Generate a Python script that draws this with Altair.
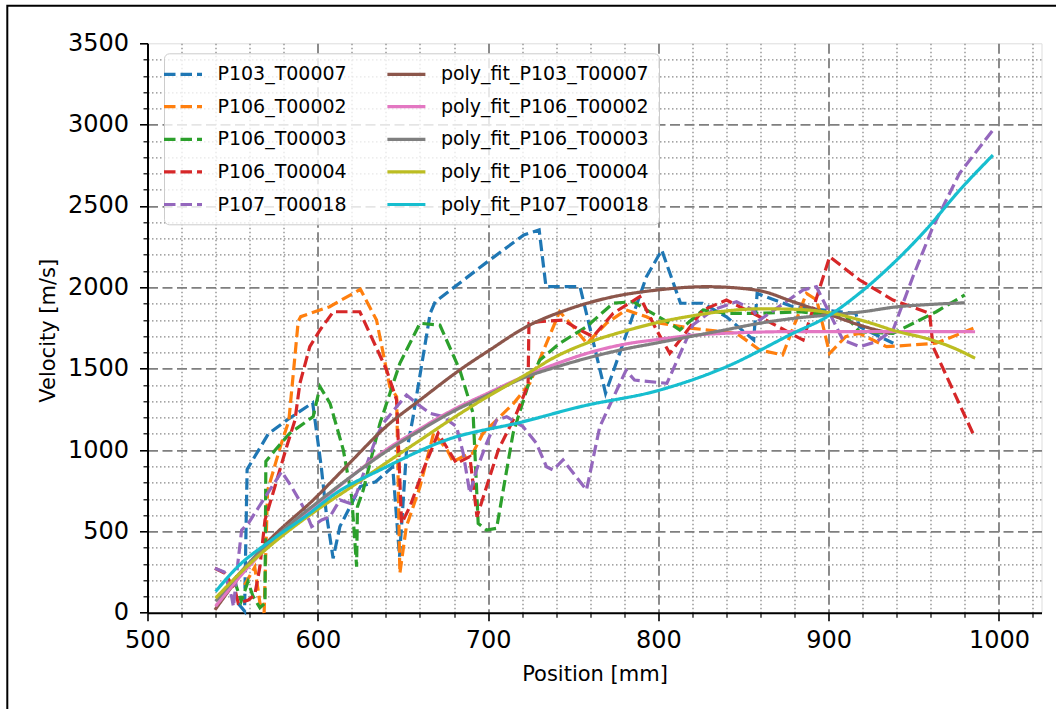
import altair as alt
import pandas as pd

SERIES = ["P103_T00007", "P106_T00002", "P106_T00003", "P106_T00004", "P107_T00018"]
FITS = ["poly_fit_" + s for s in SERIES]
COLORS = ["#1f77b4", "#ff7f0e", "#2ca02c", "#d62728", "#9467bd"]
FIT_COLORS = ["#8c564b", "#e377c2", "#7f7f7f", "#bcbd22", "#17becf"]

# ---- measured series ----
p103_x = [553, 557, 558.5, 563, 571, 582, 597, 602, 605, 609, 613, 625, 634, 644, 648, 652, 656, 666, 669,
          701, 721, 730, 734, 754, 769, 793, 802, 813, 826, 840, 856, 858, 879, 916, 918, 938]
p103_y = [60, 10, 880, 960, 1100, 1185, 1290, 900, 610, 334, 530, 776, 805, 897, 344, 980, 1205, 1840, 1912,
          2168, 2322, 2353, 2004, 2004, 1349, 2065, 2229, 1902, 1902, 1819, 1676, 1963, 1881, 1840, 1758, 1656]

p106_2_x = [557, 563, 566, 568.5, 570.5, 578, 583, 588.5, 590, 607, 625, 634.5, 642.3, 646.3, 648.2, 652, 660,
            668, 676, 679.5, 685, 691, 697, 705, 715, 724.5, 742, 750, 758, 769.5, 781, 793, 801, 820, 846,
            859.5, 873, 887, 893, 900.6, 910, 918, 934, 963, 985]
p106_2_y = [170, 280, 60, 0, 750, 1020, 1180, 1790, 1820, 1881, 1988, 1799, 1389, 1328, 242, 529, 774,
            1103, 1000, 928, 959, 980, 1103, 1184, 1287, 1410, 1850, 1758, 1656, 1779, 1861, 1819, 1779, 1748, 1717,
            1615, 1584, 1963, 1922, 1594, 1697, 1717, 1635, 1656, 1748]

p106_3_x = [551, 555, 559, 562, 566, 569, 569.5, 575, 583.6, 597.3, 601.3, 607.2, 615, 619.9, 622.8, 623.3,
            626.7, 636.5, 648.2, 660, 671.7, 683.4, 691.2, 694.2, 699.1, 705, 714.7, 724.5, 730.4, 742.1,
            757.8, 773.4, 785.2, 793, 806.7, 812.6, 826.3, 840, 859.5, 882.9, 910.4, 918.2, 937.8, 963.2, 979.9]
p106_3_y = [200, 70, 190, 100, 30, 60, 930, 1000, 1103, 1205, 1389, 1287, 1000, 713, 283, 652,
            754, 1164, 1533, 1779, 1768, 1492, 1226, 549, 508, 519, 1103, 1430, 1553, 1656,
            1758, 1902, 1912, 1861, 1779, 1738, 1861, 1840, 1840, 1850, 1819, 1727, 1717, 1850, 1953]

p106_4_x = [539.6, 545.5, 551.4, 553.3, 559.2, 563, 566, 569, 574.8, 581.7, 586.6, 589.5, 595.3, 601.3, 609.1,
            624.7, 640.4, 646.3, 649.2, 654.1, 661.9, 670.7, 681.5, 689.3, 693.5, 706, 716.7, 723.5, 724,
            730.4, 744, 753.9, 761.7, 773.4, 789.1, 798.9, 806.7, 826.3, 840, 859.5, 885, 900.6, 918.2,
            937.8, 959.3, 961.3, 984.7]
p106_4_y = [273, 242, 140, 58, 78, 110, 283, 570, 774, 1020, 1184, 1410, 1635, 1738, 1850,
            1850, 1492, 1307, 549, 652, 877, 1103, 918, 959, 590, 1000, 1226, 1400, 1779,
            1789, 1799, 1738, 1697, 1840, 1943, 1738, 1594, 1861, 1922, 1819, 1676, 2188, 2045,
            1922, 1840, 1635, 1103]

p107_x = [539.6, 545, 549.4, 550.5, 553, 555.3, 559.2, 568, 578.8, 584.6, 592.5, 596.4, 602.3, 607.1, 613,
          618.9, 622.8, 634.5, 638.4, 646.3, 652.1, 658, 665.8, 673.6, 681.5, 685.4, 689.3, 693.2, 699.1, 705,
          710.9, 720.6, 728.4, 734.3, 738.2, 744, 757.8, 765.6, 781, 786, 805, 820.4, 832.1, 845.9, 855.6,
          859.5, 885, 892.8, 908.4, 918.2, 928, 937.8, 949.5, 961.3, 976.9, 996.5]
p107_y = [273, 250, 98, 37, 300, 508, 549, 693, 867, 774, 631, 529, 570, 590, 693,
          672, 734, 1082, 1164, 1266, 1338, 1287, 1226, 1205, 1143, 980, 734, 877, 1041, 1184,
          1205, 1143, 1041, 897, 877, 939, 754, 1143, 1490, 1430, 1410, 1770, 1861, 1912, 1861,
          1799, 1984, 2004, 1676, 1635, 1666, 1738, 2065, 2373, 2701, 2967]

# ---- polynomial fits ----
fit103_x = [539.6, 568, 599.3, 615.9, 642.3, 660, 683.4, 701, 722.6, 746, 773.4, 799, 828.2, 857.6, 879, 898.7, 918.2, 936]
fit103_y = [17, 406, 713, 890, 1164, 1307, 1492, 1615, 1758, 1861, 1942, 1983, 2004, 1983, 1912, 1840, 1768, 1717]

fit106_2_x = [540, 560, 580, 600, 620, 640, 660, 680, 700, 720, 740, 760, 780, 800, 820, 840, 860, 880, 900, 930, 960, 986]
fit106_2_y = [40, 290, 500, 670, 840, 1000, 1130, 1250, 1350, 1447, 1530, 1600, 1650, 1680, 1705, 1718, 1725, 1728, 1728, 1728, 1728, 1727]

fit106_3_x = [540, 560, 580, 600, 620, 640, 660, 680, 700, 720, 740, 760, 780, 800, 820, 840, 860, 880, 900, 920, 940, 960, 980]
fit106_3_y = [70, 310, 510, 680, 840, 990, 1120, 1240, 1340, 1440, 1510, 1570, 1620, 1660, 1700, 1740, 1780, 1810, 1830, 1850, 1880, 1895, 1905]

fit106_4_x = [540, 560, 580, 600, 620, 640, 660, 680, 700, 720, 740, 760, 780, 800, 820, 840, 860, 880, 900, 920, 940, 960, 975, 986]
fit106_4_y = [90, 300, 480, 635, 775, 920, 1060, 1200, 1330, 1450, 1575, 1665, 1730, 1785, 1825, 1855, 1868, 1865, 1845, 1795, 1730, 1678, 1620, 1564]

fit107_x = [540, 553, 573, 592.5, 612, 636.5, 675.6, 720.6, 754, 801, 840, 879, 899, 918, 938, 957, 977, 996.5]
fit107_y = [130, 283, 447, 590, 744, 877, 1062, 1174, 1266, 1369, 1512, 1717, 1819, 1963, 2148, 2352, 2598, 2813]

X_MAJOR = [500, 600, 700, 800, 900, 1000]
Y_MAJOR = [0, 500, 1000, 1500, 2000, 2500, 3000, 3500]
X_MINOR = [v for v in range(520, 1025, 20) if v % 100 != 0]
Y_MINOR = [v for v in range(100, 3500, 100) if v % 500 != 0]
X_GRID = [600, 700, 800, 900, 1000]
Y_GRID = [500, 1000, 1500, 2000, 2500, 3000]

raw = [(p103_x, p103_y), (p106_2_x, p106_2_y), (p106_3_x, p106_3_y), (p106_4_x, p106_4_y), (p107_x, p107_y)]
fits = [(fit103_x, fit103_y), (fit106_2_x, fit106_2_y), (fit106_3_x, fit106_3_y),
        (fit106_4_x, fit106_4_y), (fit107_x, fit107_y)]

rows = []
for name, (xs_, ys_) in zip(SERIES, raw):
    for i, (a, b) in enumerate(zip(xs_, ys_)):
        rows.append({"series": name, "pos": a, "vel": b, "i": i})
raw_df = pd.DataFrame(rows)

rows = []
for name, (xs_, ys_) in zip(FITS, fits):
    for i, (a, b) in enumerate(zip(xs_, ys_)):
        rows.append({"series": name, "pos": a, "vel": b, "i": i})
fit_df = pd.DataFrame(rows)

domain = SERIES + FITS
crange = COLORS + FIT_COLORS
drange = [[11.5, 5]] * 5 + [[1, 0]] * 5

FONT = "DejaVu Sans"
xs = alt.Scale(domain=[500, 1025], nice=False, zero=False)
ys = alt.Scale(domain=[0, 3500], nice=False, zero=False)

legend = alt.Legend(
    title=None, orient="none", legendX=16.5, legendY=10, columns=2,
    symbolType="M-2,0H2", symbolSize=361, symbolStrokeWidth=3.2, symbolOffset=-1.8,
    labelFont=FONT, labelFontSize=19, labelColor="black", labelLimit=400,
    labelOffset=23, rowPadding=10.6, columnPadding=33.4, padding=9.3,
    fillColor="rgba(255,255,255,0.8)", strokeColor="#cccccc", cornerRadius=5,
)
color = alt.Color("series:N", scale=alt.Scale(domain=domain, range=crange), legend=legend)
dash = alt.StrokeDash("series:N", scale=alt.Scale(domain=domain, range=drange), legend=legend)

# minor grid + minor ticks
minor = alt.Chart(fit_df).mark_point(opacity=0).encode(
    x=alt.X("pos:Q", scale=xs, axis=alt.Axis(
        orient="bottom", values=X_MINOR, labels=False, domain=False, title=None,
        grid=True, gridDash=[1.5, 2.5], gridColor="#888888", gridWidth=1.3,
        ticks=True, tickSize=4.5, tickWidth=1.2, tickColor="black")),
    y=alt.Y("vel:Q", scale=ys, axis=alt.Axis(
        orient="left", values=Y_MINOR, labels=False, domain=False, title=None,
        grid=True, gridDash=[1.5, 2.5], gridColor="#888888", gridWidth=1.3,
        ticks=True, tickSize=4.5, tickWidth=1.2, tickColor="black")),
)

major = alt.Chart(fit_df).mark_point(opacity=0).encode(
    x=alt.X("pos:Q", scale=xs, axis=alt.Axis(
        orient="bottom", values=X_GRID, labels=False, domain=False, title=None, ticks=False,
        grid=True, gridDash=[10, 4.5], gridColor="#7f7f7f", gridWidth=1.8)),
    y=alt.Y("vel:Q", scale=ys, axis=alt.Axis(
        orient="left", values=Y_GRID, labels=False, domain=False, title=None, ticks=False,
        grid=True, gridDash=[10, 4.5], gridColor="#7f7f7f", gridWidth=1.8)),
)

raw_lines = alt.Chart(raw_df).mark_line(strokeWidth=3.2).encode(
    x=alt.X("pos:Q", scale=xs, axis=alt.Axis(
        orient="bottom", values=X_MAJOR, format="d", grid=False, domain=True,
        domainColor="black", domainWidth=2, tickSize=8, tickWidth=1.6, tickColor="black",
        labelFont=FONT, labelFontSize=24, labelColor="black", labelBaseline="alphabetic",
        labelPadding=27, labelFlush=False, labelOverlap=False,
        title="Position [mm]", titleFont=FONT, titleFontSize=21, titleFontWeight="normal",
        titleColor="black", titleBaseline="alphabetic", titleY=68)),
    y=alt.Y("vel:Q", scale=ys, axis=alt.Axis(
        orient="left", values=Y_MAJOR, format="d", grid=False, domain=True,
        domainColor="black", domainWidth=2, tickSize=8, tickWidth=1.6, tickColor="black",
        labelFont=FONT, labelFontSize=24, labelColor="black", labelPadding=11,
        labelFlush=False, labelOverlap=False,
        title="Velocity [m/s]", titleFont=FONT, titleFontSize=21, titleFontWeight="normal",
        titleColor="black", titleBaseline="alphabetic", titleX=-92.5, titleY=287, titleAngle=270)),
    color=color,
    strokeDash=dash,
    order="i:Q",
)

fit_lines = alt.Chart(fit_df).mark_line(strokeWidth=3.2, interpolate="monotone").encode(
    x=alt.X("pos:Q", scale=xs, axis=None),
    y=alt.Y("vel:Q", scale=ys, axis=None),
    color=color,
    strokeDash=dash,
    order="i:Q",
)

border = alt.Chart(pd.DataFrame({"a": [0]})).mark_rect(
    fill=None, stroke="black", strokeWidth=2
).encode(
    x=alt.value(7.3 - 147.5), x2=alt.value(1062 - 147.5),
    y=alt.value(5.7 - 43.3), y2=alt.value(714 - 43.3),
)

chart = alt.layer(minor, major, raw_lines, fit_lines, border).resolve_axis(
    x="independent", y="independent"
).properties(
    width=894, height=569.4,
    padding={"left": 147.5, "top": 43.3, "right": 14.3, "bottom": 96.3},
    autosize="none",
).configure_view(stroke="black", strokeWidth=2).configure(font=FONT)

chart.save("out.html", embed_options={"renderer": "svg", "actions": False})
